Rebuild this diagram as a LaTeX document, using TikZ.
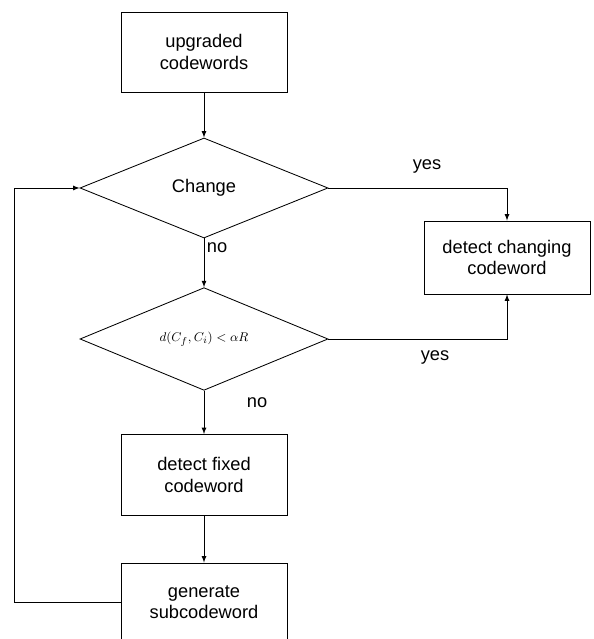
\documentclass[tikz,border=0pt]{standalone}
\usepackage{fontspec}
\setmainfont{Liberation Sans}
\usetikzlibrary{shapes.geometric}
\tikzset{
  block/.style={draw, rectangle, minimum width=4.15cm, align=center, font=\fontsize{13}{15}\selectfont},
  decision/.style={draw, diamond, minimum width=6.2cm, minimum height=2.5cm, inner sep=0pt, font=\fontsize{13}{15}\selectfont},
  lbl/.style={font=\fontsize{13}{15}\selectfont}
}
\begin{document}
\begin{tikzpicture}[line width=0.6pt]
\useasboundingbox (0,0) rectangle (14.825,15.975);
\node[block, minimum height=2cm] (upgr) at (5.1,14.675) {upgraded\\codewords};
\node[decision] (change) at (5.1,11.275) {Change};
\node[decision, minimum height=2.45cm] (dist) at (5.1,7.5) {\fontsize{9.3}{11}\selectfont $d(C_f,C_i)<\alpha R$};
\node[block, minimum height=1.825cm] (chg) at (12.675,9.5375) {detect changing\\codeword};
\node[block, minimum height=2.025cm] (fixed) at (5.1,4.1) {detect fixed\\codeword};
\node[block, minimum height=1.95cm] (gen) at (5.1,0.925) {generate\\subcodeword};
\coordinate (loop) at (0.35,0.925);
\draw [-latex] (upgr) -- (change);
\draw [-latex] (change.east) -| (chg.north);
\draw [-latex] (change) -- (dist);
\draw [-latex] (dist.east) -| (chg.south);
\draw [-latex] (dist) -- (fixed);
\draw [-latex] (fixed) -- (gen);
\draw [-latex] (gen.west) -- (loop) |- (change.west);
\node[lbl] (yes1) at (10.675,11.825) {yes};
\node[lbl] (no1) at (5.425,9.775) {no};
\node[lbl] (yes2) at (10.875,7.05) {yes};
\node[lbl] (no2) at (6.425,5.9) {no};
\end{tikzpicture}
\end{document}
